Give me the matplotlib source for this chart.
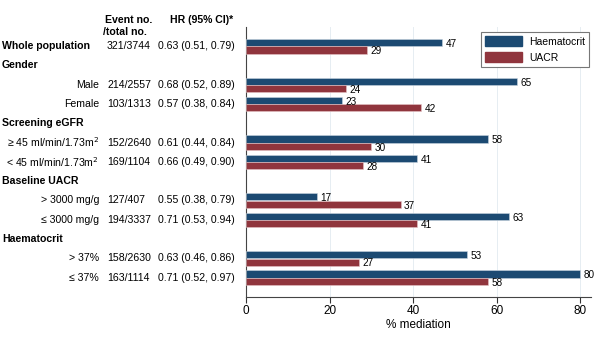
import numpy as np
import matplotlib.pyplot as plt

plt.rcParams['font.family'] = ['Liberation Sans', 'DejaVu Sans']

# rows, top to bottom (headers have no bars)
labels = ['Whole population', 'Gender', 'Male', 'Female', 'Screening eGFR',
          '\u2265 45 ml/min/1.73m$^2$', '< 45 ml/min/1.73m$^2$', 'Baseline UACR',
          '> 3000 mg/g', '\u2264 3000 mg/g', 'Haematocrit', '> 37%', '\u2264 37%']
is_header = [True, True, False, False, True, False, False, True, False, False, True, False, False]
events = ['321/3744', '', '214/2557', '103/1313', '', '152/2640', '169/1104', '',
          '127/407', '194/3337', '', '158/2630', '163/1114']
hr_ci = ['0.63 (0.51, 0.79)', '', '0.68 (0.52, 0.89)', '0.57 (0.38, 0.84)', '',
         '0.61 (0.44, 0.84)', '0.66 (0.49, 0.90)', '', '0.55 (0.38, 0.79)',
         '0.71 (0.53, 0.94)', '', '0.63 (0.46, 0.86)', '0.71 (0.52, 0.97)']
haemat = [47, None, 65, 23, None, 58, 41, None, 17, 63, None, 53, 80]
uacr = [29, None, 24, 42, None, 30, 28, None, 37, 41, None, 27, 58]

blue = '#1c4a72'
red = '#90353d'

fig = plt.figure(figsize=(5.95, 3.4), dpi=100)
ax = fig.add_axes([246/595, 1-297/340, 345/595, 270/340])

ypos = np.arange(len(labels))
bh = 0.37
for i in range(len(labels)):
    if haemat[i] is None:
        continue
    ax.barh(ypos[i]-0.19, haemat[i], height=bh, color=blue, edgecolor='#c8d4de', linewidth=0.4, zorder=3)
    ax.barh(ypos[i]+0.19, uacr[i], height=bh, color=red, edgecolor='#e4c4c6', linewidth=0.4, zorder=3)
    ax.text(haemat[i]+0.8, ypos[i]-0.12, str(haemat[i]), fontsize=7.2, va='center', ha='left', zorder=4)
    ax.text(uacr[i]+0.8, ypos[i]+0.26, str(uacr[i]), fontsize=7.2, va='center', ha='left', zorder=4)

ax.set_xlim(0, 82.6)
ax.set_ylim(13.0, -1.0)
ax.set_yticks([])
ax.set_xticks([0, 20, 40, 60, 80])
ax.tick_params(axis='x', labelsize=8.5, length=4, width=0.8, color='#333333', pad=2)
ax.set_xlabel('% mediation', fontsize=8.5, labelpad=1)
ax.grid(axis='x', color='#e6edf2', linewidth=0.7, zorder=0)
for s in ['top', 'right']:
    ax.spines[s].set_visible(False)
ax.spines['left'].set_color('#444444')
ax.spines['bottom'].set_color('#444444')

# table columns to the left of the axes
def row_y(i):
    return 1 - (46 + 19.3*i)/340

fs = 7.6
for i, lab in enumerate(labels):
    y = row_y(i)
    if is_header[i]:
        fig.text(2/595, y, lab, fontsize=fs, fontweight='bold', va='center', ha='left')
    else:
        fig.text(99/595, y, lab, fontsize=fs, va='center', ha='right')
    if events[i]:
        fig.text(107/595, y, events[i], fontsize=fs, va='center', ha='left')
    if hr_ci[i]:
        fig.text(158/595, y, hr_ci[i], fontsize=fs, va='center', ha='left')

fig.text(105/595, 1-20/340, 'Event no.', fontsize=fs, fontweight='bold', va='center', ha='left')
fig.text(103/595, 1-32/340, '/total no.', fontsize=fs, fontweight='bold', va='center', ha='left')
fig.text(170/595, 1-20/340, 'HR (95% CI)*', fontsize=fs, fontweight='bold', va='center', ha='left')

h1 = plt.Rectangle((0, 0), 1, 1, color=blue)
h2 = plt.Rectangle((0, 0), 1, 1, color=red)
leg = ax.legend([h1, h2], ['Haematocrit', 'UACR'], loc='upper right',
                bbox_to_anchor=(589/595, 1-32/340), bbox_transform=fig.transFigure,
                fontsize=7.5, fancybox=False, framealpha=1, edgecolor='#777777',
                handlelength=3.5, handleheight=1.1, handletextpad=0.7,
                borderpad=0.4, labelspacing=0.55, borderaxespad=0)
leg.get_frame().set_linewidth(0.8)

fig.savefig('out.png', dpi=100)
